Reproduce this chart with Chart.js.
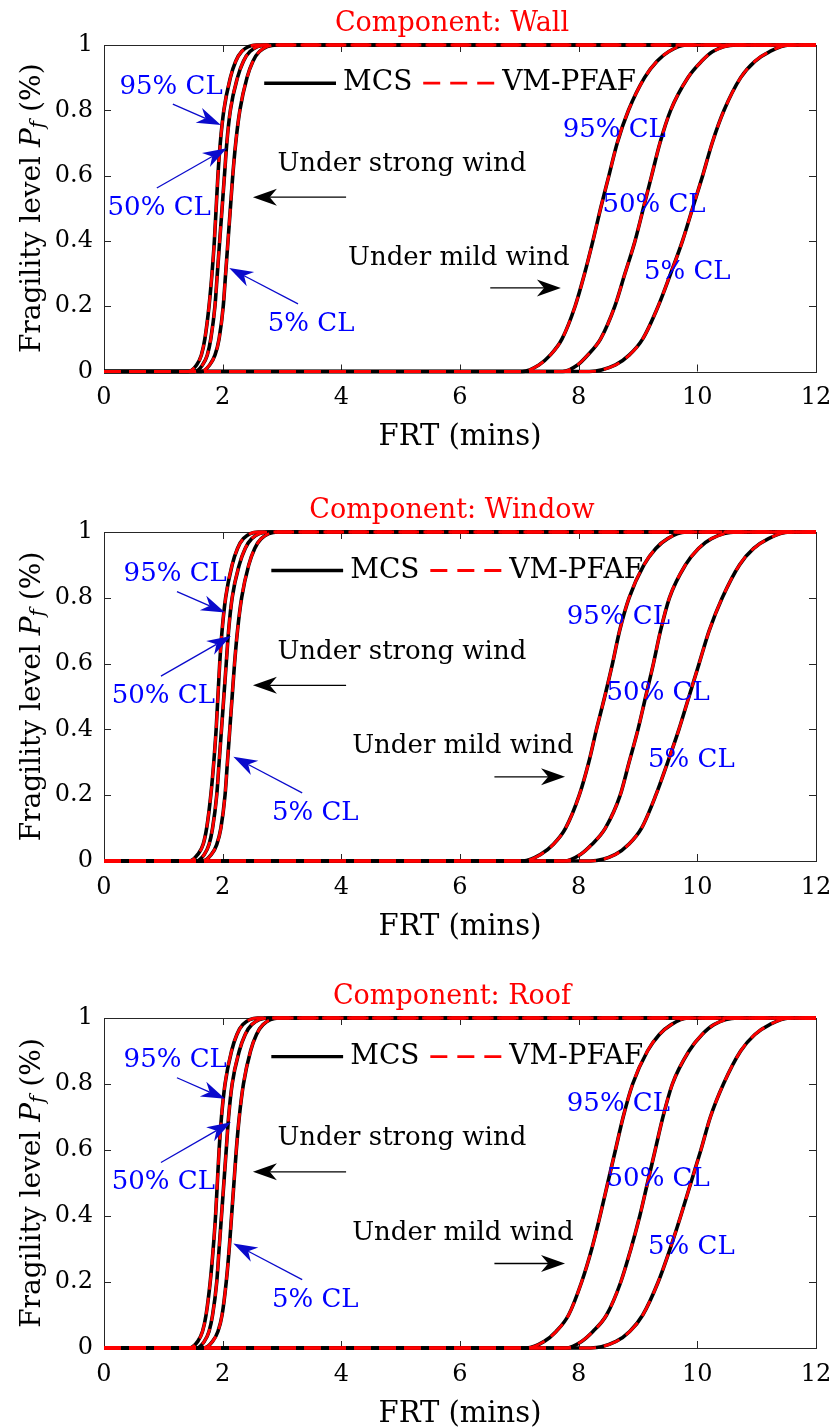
<!DOCTYPE html>
<html>
<head>
<meta charset="utf-8">
<script src="https://cdn.jsdelivr.net/npm/chart.js@4.4.1/dist/chart.umd.min.js"></script>
<style>
  html, body { margin: 0; padding: 0; background: #fff; }
  canvas { display: block; }
</style>
</head>
<body>
<canvas id="wall" width="832" height="487"></canvas>
<canvas id="window" width="832" height="486"></canvas>
<canvas id="roof" width="832" height="454"></canvas>
<script>
const pLevels = [0, 0.02, 0.05, 0.1, 0.2, 0.3, 0.4, 0.5, 0.6, 0.7, 0.8, 0.9, 0.95, 0.98, 1];
const xTicks = [0, 2, 4, 6, 8, 10, 12];
const yTicks = [0, 0.2, 0.4, 0.6, 0.8, 1];

// Wall
const wallStrong95 = [1.42, 1.56, 1.64, 1.70, 1.77, 1.82, 1.86, 1.89, 1.92, 1.96, 2.02, 2.13, 2.22, 2.32, 2.57];
const wallStrong50 = [1.53, 1.66, 1.74, 1.80, 1.87, 1.91, 1.95, 1.99, 2.03, 2.07, 2.13, 2.25, 2.35, 2.46, 2.74];
const wallStrong5  = [1.64, 1.78, 1.87, 1.94, 2.01, 2.05, 2.09, 2.13, 2.17, 2.22, 2.29, 2.41, 2.51, 2.62, 2.91];
const wallMild95   = [7.05, 7.33, 7.52, 7.72, 7.94, 8.10, 8.24, 8.37, 8.51, 8.65, 8.84, 9.11, 9.32, 9.52, 9.81];
const wallMild50   = [7.73, 7.98, 8.15, 8.37, 8.61, 8.78, 8.95, 9.09, 9.23, 9.37, 9.55, 9.84, 10.07, 10.26, 10.65];
const wallMild5    = [8.18, 8.62, 8.85, 9.08, 9.34, 9.55, 9.75, 9.92, 10.09, 10.25, 10.45, 10.73, 10.97, 11.22, 11.55];

// Window
const windowStrong95 = [1.44, 1.58, 1.67, 1.73, 1.80, 1.85, 1.89, 1.92, 1.95, 1.99, 2.05, 2.16, 2.25, 2.35, 2.60];
const windowStrong50 = [1.55, 1.69, 1.77, 1.83, 1.90, 1.94, 1.98, 2.02, 2.06, 2.10, 2.16, 2.28, 2.38, 2.49, 2.77];
const windowStrong5  = [1.66, 1.81, 1.90, 1.97, 2.04, 2.08, 2.12, 2.16, 2.20, 2.25, 2.32, 2.44, 2.54, 2.65, 2.93];
const windowMild95   = [7.06, 7.36, 7.57, 7.78, 8.01, 8.17, 8.30, 8.44, 8.57, 8.69, 8.85, 9.10, 9.30, 9.50, 9.81];
const windowMild50   = [7.75, 8.03, 8.22, 8.45, 8.70, 8.85, 9.00, 9.13, 9.26, 9.38, 9.53, 9.80, 10.02, 10.24, 10.65];
const windowMild5    = [8.20, 8.62, 8.84, 9.06, 9.30, 9.50, 9.69, 9.86, 10.03, 10.20, 10.42, 10.71, 10.95, 11.20, 11.55];

// Roof
const roofStrong95 = [1.44, 1.58, 1.66, 1.72, 1.79, 1.84, 1.88, 1.91, 1.94, 1.98, 2.04, 2.15, 2.24, 2.34, 2.59];
const roofStrong50 = [1.56, 1.69, 1.77, 1.83, 1.90, 1.94, 1.98, 2.02, 2.06, 2.10, 2.16, 2.28, 2.38, 2.49, 2.77];
const roofStrong5  = [1.68, 1.83, 1.92, 1.99, 2.06, 2.11, 2.15, 2.19, 2.23, 2.28, 2.35, 2.47, 2.57, 2.68, 2.95];
const roofMild95   = [7.12, 7.42, 7.62, 7.83, 8.05, 8.22, 8.36, 8.49, 8.62, 8.75, 8.91, 9.16, 9.36, 9.56, 9.84];
const roofMild50   = [7.78, 8.05, 8.24, 8.47, 8.71, 8.88, 9.03, 9.16, 9.29, 9.42, 9.58, 9.86, 10.08, 10.28, 10.68];
const roofMild5    = [8.20, 8.63, 8.86, 9.08, 9.34, 9.54, 9.72, 9.89, 10.06, 10.22, 10.44, 10.73, 10.97, 11.22, 11.55];

const SERIF = '"DejaVu Serif", "Liberation Serif", serif';
const BLUE = '#0000ff';
const BLUE_ARROW = '#0a0acc';

// annotation placement, in data units (FRT, Pf)
const blueNotes = [
  { text: '95% CL', x: 1.13, y: 0.871 },
  { text: '50% CL', x: 0.93, y: 0.501 },
  { text: '5% CL', x: 3.49, y: 0.145 },
  { text: '95% CL', x: 8.60, y: 0.740 },
  { text: '50% CL', x: 9.27, y: 0.510 },
  { text: '5% CL', x: 9.83, y: 0.305 }
];
const blueArrows = [
  [1.16, 0.819, 1.97, 0.755],
  [0.89, 0.562, 2.07, 0.684],
  [3.27, 0.207, 2.11, 0.317]
];
const blackNotes = [
  { text: 'Under strong wind', x: 5.02, y: 0.636, fixed: true },
  { text: 'Under mild wind', x: 5.98, y: 0.348 }
];
const blackArrows = [
  { a: [4.08, 0.534, 2.51, 0.534], fixed: true },
  { a: [6.51, 0.256, 7.70, 0.256] }
];

const panels = [
  { id: 'wall', title: 'Component: Wall', bottom: 371.5, shift: 0, legendShift: 0,
    curves: [wallStrong95, wallStrong50, wallStrong5, wallMild95, wallMild50, wallMild5] },
  { id: 'window', title: 'Component: Window', bottom: 374, shift: 0.07, legendShift: 0.12,
    curves: [windowStrong95, windowStrong50, windowStrong5, windowMild95, windowMild50, windowMild5] },
  { id: 'roof', title: 'Component: Roof', bottom: 375, shift: 0.07, legendShift: 0.12,
    curves: [roofStrong95, roofStrong50, roofStrong5, roofMild95, roofMild50, roofMild5] }
];

function toPoints(frt) {
  return [{ x: 0, y: 0 }, ...pLevels.map((p, i) => ({ x: frt[i], y: p })), { x: 12, y: 1 }];
}

function arrow(ctx, x1, y1, x2, y2, color, lw, L, W) {
  const len = Math.hypot(x2 - x1, y2 - y1);
  const ux = (x2 - x1) / len, uy = (y2 - y1) / len;
  const nx = -uy, ny = ux;
  const bx = x2 - ux * L, by = y2 - uy * L;
  const mx = x2 - ux * L * 0.7, my = y2 - uy * L * 0.7;
  ctx.strokeStyle = color;
  ctx.fillStyle = color;
  ctx.lineWidth = lw;
  ctx.beginPath();
  ctx.moveTo(x1, y1);
  ctx.lineTo(mx, my);
  ctx.stroke();
  ctx.beginPath();
  ctx.moveTo(x2, y2);
  ctx.lineTo(bx + nx * W / 2, by + ny * W / 2);
  ctx.lineTo(mx, my);
  ctx.lineTo(bx - nx * W / 2, by - ny * W / 2);
  ctx.closePath();
  ctx.fill();
}

const decor = {
  id: 'decor',
  beforeDatasetsDraw(chart) {
    const { ctx, chartArea: a, scales: { x, y } } = chart;
    ctx.save();
    ctx.strokeStyle = '#262626';
    ctx.lineWidth = 1;
    ctx.strokeRect(Math.round(a.left) + 0.5, Math.round(a.top) + 0.5, Math.round(a.width), Math.round(a.height));
    ctx.beginPath();
    xTicks.forEach(v => {
      const px = Math.round(x.getPixelForValue(v)) + 0.5;
      ctx.moveTo(px, a.bottom); ctx.lineTo(px, a.bottom - 7);
      ctx.moveTo(px, a.top); ctx.lineTo(px, a.top + 7);
    });
    yTicks.forEach(v => {
      const py = Math.round(y.getPixelForValue(v)) + 0.5;
      ctx.moveTo(a.left, py); ctx.lineTo(a.left + 7, py);
      ctx.moveTo(a.right, py); ctx.lineTo(a.right - 7, py);
    });
    ctx.stroke();
    ctx.restore();
  },
  afterDatasetsDraw(chart, args, opts) {
    const { ctx, chartArea: a, scales: { x, y } } = chart;
    const X = v => x.getPixelForValue(v);
    const Y = v => y.getPixelForValue(v);
    ctx.save();
    ctx.textAlign = 'center';
    ctx.textBaseline = 'middle';

    // title
    ctx.fillStyle = '#ff0000';
    ctx.font = '27px ' + SERIF;
    ctx.fillText(opts.title, (a.left + a.right) / 2 - 8, a.top - 21);

    // x axis label
    ctx.fillStyle = '#000';
    ctx.font = '29px ' + SERIF;
    ctx.fillText('FRT (mins)', (a.left + a.right) / 2, a.bottom + 66);

    // y axis label with italic P_f
    ctx.save();
    ctx.translate(33, (a.top + a.bottom) / 2);
    ctx.rotate(-Math.PI / 2);
    ctx.textAlign = 'left';
    const parts = [
      ['Fragility level ', '28px ' + SERIF, 0],
      ['P', 'italic 28px ' + SERIF, 0],
      ['f', 'italic 20px ' + SERIF, 6],
      [' (%)', '28px ' + SERIF, 0]
    ];
    let total = 0;
    const widths = parts.map(p => { ctx.font = p[1]; const w = ctx.measureText(p[0]).width; total += w; return w; });
    let cx = -total / 2;
    parts.forEach((p, i) => { ctx.font = p[1]; ctx.fillText(p[0], cx, p[2]); cx += widths[i]; });
    ctx.restore();

    // legend
    const ls = opts.legendShift;
    const ly = Y(0.883);
    ctx.lineWidth = 3.4;
    ctx.strokeStyle = '#000';
    ctx.beginPath(); ctx.moveTo(X(2.70 + ls), ly); ctx.lineTo(X(3.91 + ls), ly); ctx.stroke();
    ctx.strokeStyle = '#ff0000';
    ctx.lineWidth = 2.8;
    ctx.setLineDash([17, 10]);
    ctx.beginPath(); ctx.moveTo(X(5.38 + ls), ly); ctx.lineTo(X(6.59 + ls), ly); ctx.stroke();
    ctx.setLineDash([]);
    ctx.textAlign = 'left';
    ctx.fillStyle = '#000';
    ctx.font = '28px ' + SERIF;
    ctx.fillText('MCS', X(4.03 + ls), ly);
    ctx.fillText('VM-PFAF', X(6.71 + ls), ly);

    // annotations
    const s = opts.shift;
    ctx.textAlign = 'center';
    ctx.font = '26px ' + SERIF;
    ctx.fillStyle = '#000';
    blackNotes.forEach(n => ctx.fillText(n.text, X(n.x + (n.fixed ? 0 : s)), Y(n.y)));
    blackArrows.forEach(b => {
      const d = b.fixed ? 0 : s;
      arrow(ctx, X(b.a[0] + d), Y(b.a[1]), X(b.a[2] + d), Y(b.a[3]), '#000', 1.3, 24, 17);
    });
    ctx.fillStyle = BLUE;
    blueNotes.forEach(n => ctx.fillText(n.text, X(n.x + s), Y(n.y)));
    blueArrows.forEach(b => arrow(ctx, X(b[0] + s), Y(b[1]), X(b[2] + s), Y(b[3]), BLUE_ARROW, 1.3, 24, 16));
    ctx.restore();
  }
};

panels.forEach(panel => {
  const canvas = document.getElementById(panel.id);
  const H = canvas.height;
  const datasets = [];
  panel.curves.forEach(frt => {
    datasets.push({
      label: 'MCS', data: toPoints(frt), borderColor: '#000000', borderWidth: 3.6,
      pointRadius: 0, cubicInterpolationMode: 'monotone', clip: false, order: 2
    });
    datasets.push({
      label: 'VM-PFAF', data: toPoints(frt), borderColor: '#ff0000', borderWidth: 2.8,
      borderDash: [17, 8], pointRadius: 0, cubicInterpolationMode: 'monotone', clip: false, order: 1
    });
  });

  new Chart(canvas.getContext('2d'), {
    type: 'line',
    data: { datasets },
    options: {
      responsive: false,
      animation: false,
      layout: { padding: { top: 45, left: 0, right: 16, bottom: 0 } },
      scales: {
        x: {
          type: 'linear', min: 0, max: 12,
          afterBuildTicks: s => { s.ticks = xTicks.map(v => ({ value: v })); },
          afterFit: s => { s.height = H - panel.bottom; s.paddingLeft = 0; s.paddingRight = 0; },
          ticks: { color: '#000', font: { family: SERIF, size: 24 }, padding: 12, maxRotation: 0, autoSkip: false, callback: v => String(v) },
          grid: { display: false, drawTicks: false },
          border: { display: false }
        },
        y: {
          type: 'linear', min: 0, max: 1,
          afterBuildTicks: s => { s.ticks = yTicks.map(v => ({ value: v })); },
          afterFit: s => { s.width = 104; s.paddingTop = 0; s.paddingBottom = 0; },
          ticks: { color: '#000', font: { family: SERIF, size: 24 }, padding: 11, autoSkip: false, callback: v => String(v) },
          grid: { display: false, drawTicks: false },
          border: { display: false }
        }
      },
      plugins: {
        legend: { display: false },
        tooltip: { enabled: false },
        decor: { title: panel.title, shift: panel.shift, legendShift: panel.legendShift }
      }
    },
    plugins: [decor]
  });
});
</script>
</body>
</html>
